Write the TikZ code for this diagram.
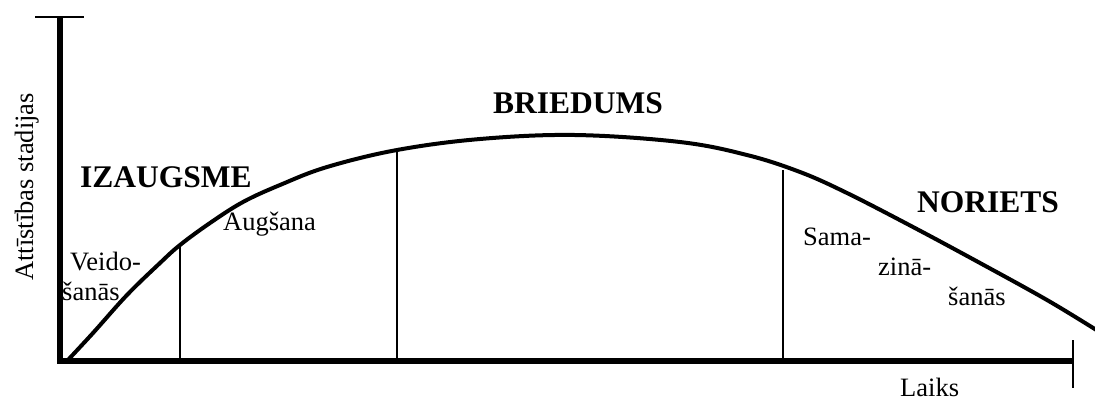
\documentclass[tikz,border=0pt]{standalone}
\usepackage{fontspec}
\setmainfont{Liberation Serif}
\begin{document}
\begin{tikzpicture}[x=1pt,y=-1pt,
  axis/.style={line width=5.5pt},
  tickline/.style={line width=1.5pt},
  curveline/.style={line width=4pt,line cap=round},
  divider/.style={line width=1.3pt},
  lbl/.style={font=\fontsize{26.5}{30}\selectfont,inner sep=0pt,anchor=base west},
  stage/.style={font=\fontsize{31.5}{34}\selectfont\bfseries,inner sep=0pt,anchor=base west}]
\useasboundingbox (0,0) rectangle (1095,400);
% axes
\coordinate (ytop) at (60,17);
\coordinate (orig) at (60,361);
\coordinate (xend) at (1073,361);
\coordinate (ytl) at (35,17);
\coordinate (ytr) at (84,17);
\coordinate (xtt) at (1073,340);
\coordinate (xtb) at (1073,388);
\draw[axis] (ytop) -- (orig) -- (xend);
\draw[tickline] (ytl) -- (ytr);
\draw[tickline] (xtt) -- (xtb);
% curve
\draw[curveline] plot[smooth,tension=0.6] coordinates {(67,361) (93,333) (127,295) (160,263) (180,245) (210,223) (243,202) (280,185) (327,167) (397,150) (480,139) (575,135) (680,142) (747,155) (800,172) (847,193) (913,227) (980,263) (1047,300) (1098,331)};
% dividers
\coordinate (d1t) at (180,245); \coordinate (d1b) at (180,361);
\coordinate (d2t) at (397,148); \coordinate (d2b) at (397,361);
\coordinate (d3t) at (783,170); \coordinate (d3b) at (783,361);
\draw[divider] (d1t) -- (d1b);
\draw[divider] (d2t) -- (d2b);
\draw[divider] (d3t) -- (d3b);
% labels
\node[lbl,rotate=90,anchor=base] (ylab) at (33,187) {Attīstības stadijas};
\node[stage] (izaug) at (80,187) {IZAUGSME};
\node[stage] (bried) at (493,113) {BRIEDUMS};
\node[stage] (noriets) at (917,212) {NORIETS};
\node[lbl] (augs) at (223,230) {Augšana};
\node[lbl] (veido) at (70,270) {Veido-};
\node[lbl] (sanas1) at (62,300) {šanās};
\node[lbl] (sama) at (803,245) {Sama-};
\node[lbl] (zina) at (878,275) {zinā-};
\node[lbl] (sanas2) at (948,305) {šanās};
\node[lbl] (laiks) at (900,396) {Laiks};
\end{tikzpicture}
\end{document}
